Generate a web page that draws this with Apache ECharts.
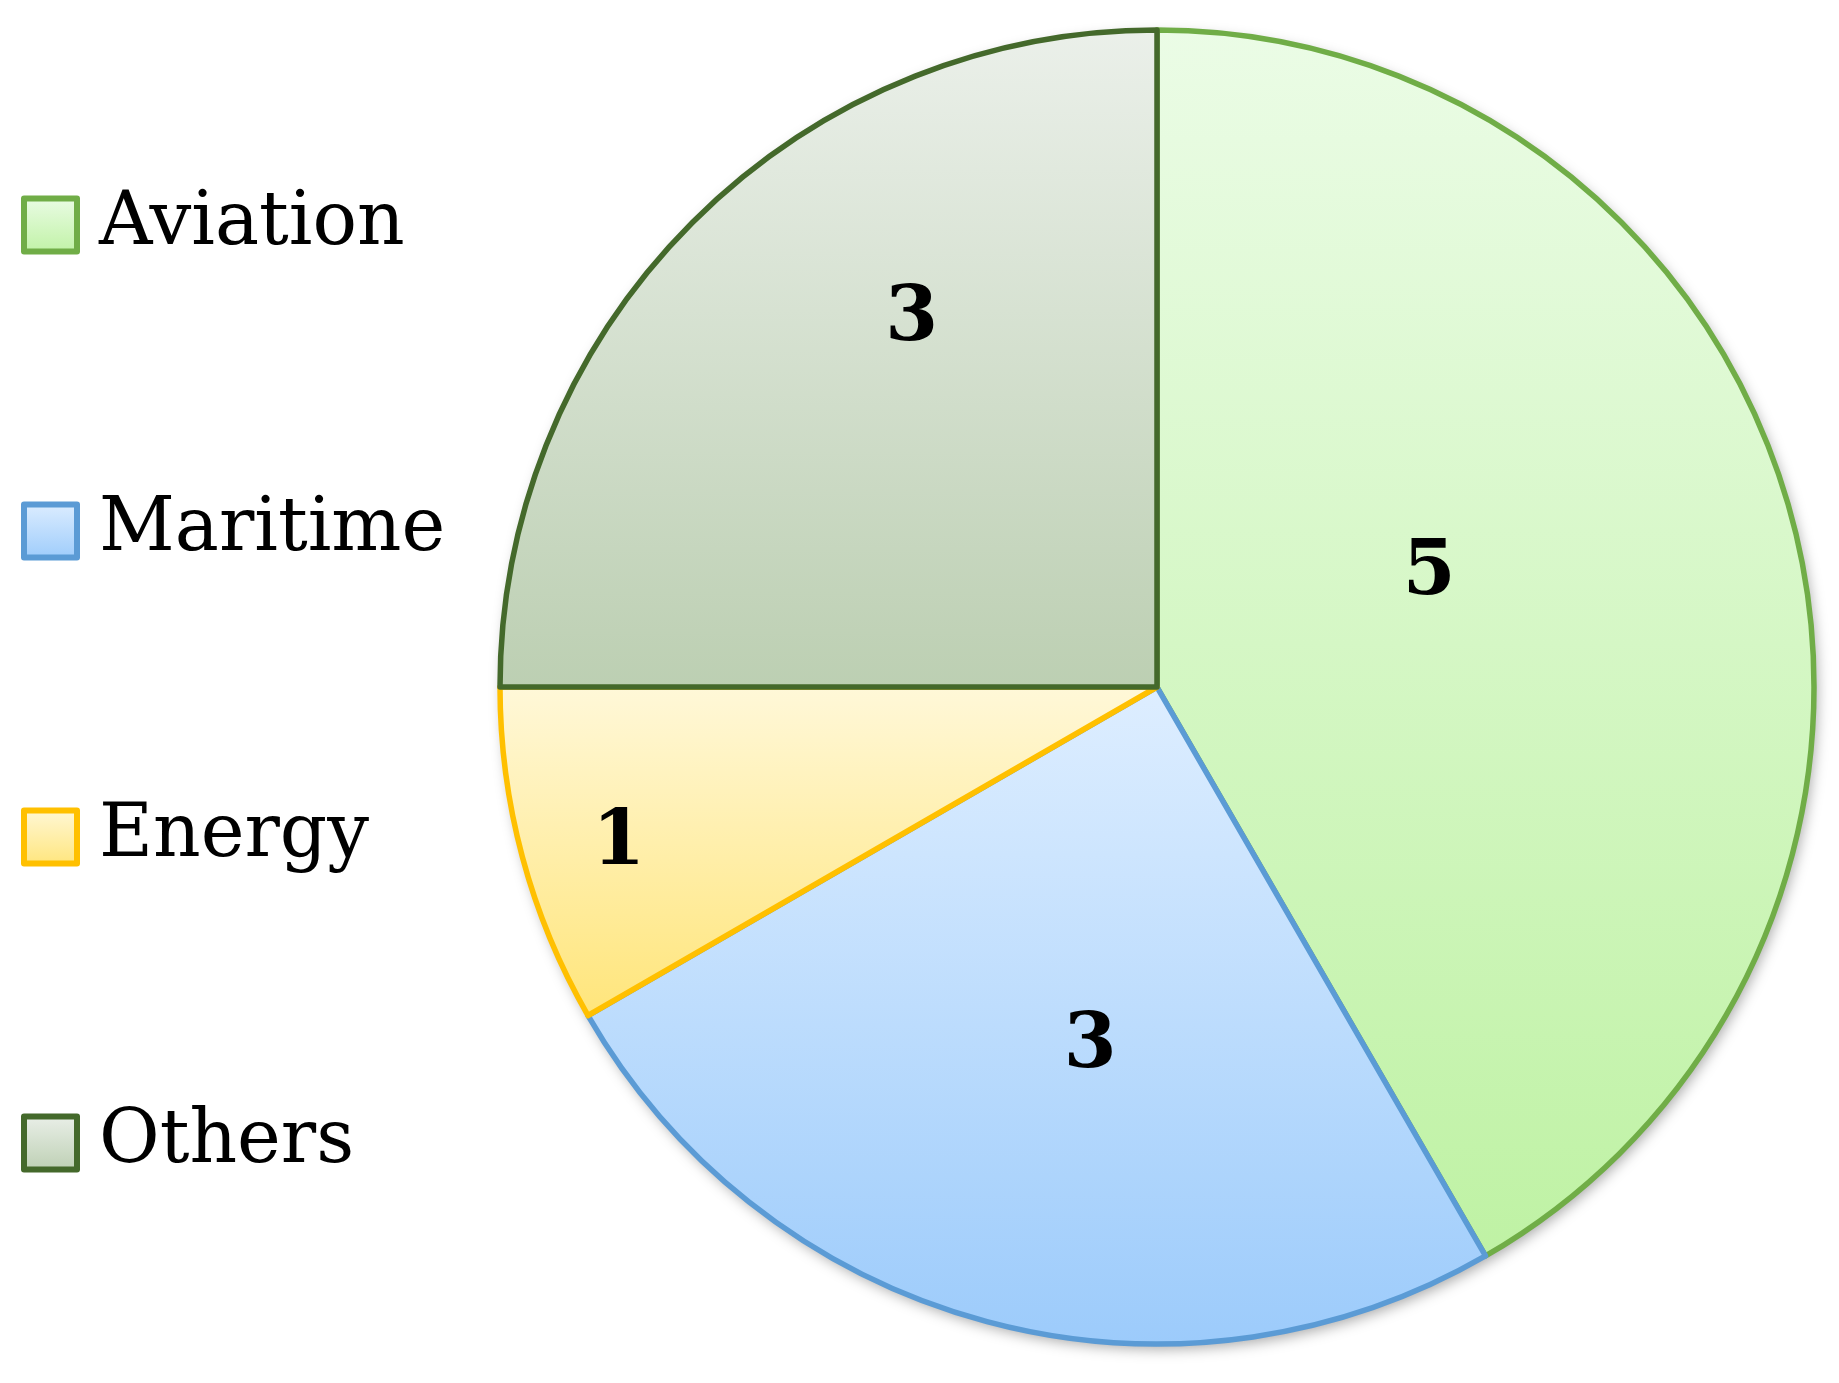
<!DOCTYPE html>
<html>
<head>
<meta charset="utf-8">
<script src="https://cdn.jsdelivr.net/npm/echarts@6/dist/echarts.min.js"></script>
<style>
    html, body { margin: 0; padding: 0; background: #fff; }
    #chart { width: 1839px; height: 1383px; }
</style>
</head>
<body>
<div id="chart"></div>
<script>
// data
const categories = ['Aviation', 'Maritime', 'Energy', 'Others'];
const counts = [5, 3, 1, 3];

// styles per slice: gradient top / bottom, border
const topColors = ['#ebfce6', '#deeeff', '#fff8d9', '#ebf0ea'];
const bottomColors = ['#bff2a4', '#9ccbfb', '#ffe57a', '#bccfb2'];
const borderColors = ['#70ad47', '#5b9bd5', '#ffc000', '#44692b'];
// label nudges so numbers sit where the original put them
const labelOffsets = [[-48, -27], [19, 40], [-218, 71], [-11, -132]];

const serif = '"Palatino Linotype", "Book Antiqua", Palatino, "DejaVu Serif", serif';
const center = [1157, 687];
const radius = 657;

const chart = echarts.init(document.getElementById('chart'));

const sliceData = categories.map((name, i) => ({
    name: name,
    value: counts[i],
    itemStyle: {
        color: new echarts.graphic.LinearGradient(0, 0, 0, 1, [
            { offset: 0, color: topColors[i] },
            { offset: 1, color: bottomColors[i] }
        ]),
        borderColor: borderColors[i]
    },
    label: { offset: labelOffsets[i] }
}));

const total = counts.reduce((a, b) => a + b, 0);

chart.setOption({
    backgroundColor: '#fff',
    animation: false,
    legend: {
        orient: 'vertical',
        left: 16,
        top: 183,
        itemWidth: 53,
        itemHeight: 53,
        itemGap: 232,
        icon: 'rect',
        data: categories,
        itemStyle: { borderWidth: 6 },
        textStyle: {
            fontFamily: serif,
            fontSize: 74,
            color: '#000',
            lineHeight: 56,
            padding: [0, 0, 0, 17]
        }
    },
    series: [
        {
            // shadow disc underneath
            type: 'pie',
            silent: true,
            center: center,
            radius: radius,
            z: 1,
            label: { show: false },
            labelLine: { show: false },
            itemStyle: {
                color: '#fff',
                shadowBlur: 14,
                shadowColor: 'rgba(0,0,0,0.35)',
                shadowOffsetX: 3,
                shadowOffsetY: 5
            },
            data: [{ name: '', value: total }]
        },
        {
            type: 'pie',
            center: center,
            radius: radius,
            startAngle: 90,
            clockwise: true,
            z: 2,
            itemStyle: { borderWidth: 5.5 },
            label: {
                show: true,
                position: 'inside',
                formatter: '{c}',
                fontFamily: serif,
                fontWeight: 'bold',
                fontSize: 76,
                color: '#000'
            },
            labelLine: { show: false },
            emphasis: { disabled: true },
            data: sliceData
        }
    ]
});
</script>
</body>
</html>
